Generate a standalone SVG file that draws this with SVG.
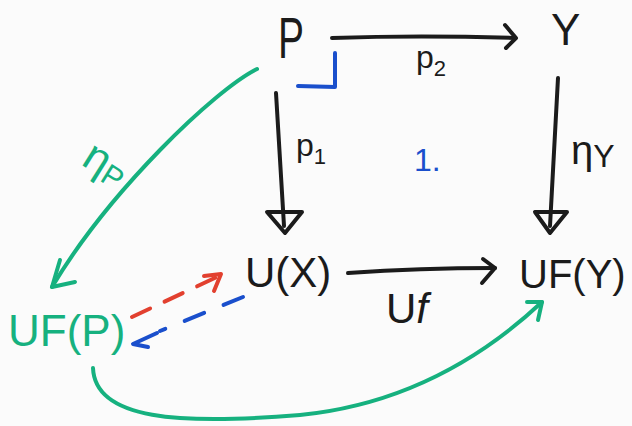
<svg xmlns="http://www.w3.org/2000/svg" width="632" height="426" viewBox="0 0 632 426">
<style>
text{font-family:"Liberation Sans","DejaVu Sans",sans-serif}
.k{fill:#1b1b1b}
.g{fill:#16b17f}
.b{fill:#1a4fcc}
.ln{fill:none;stroke-width:4;stroke-linecap:round;stroke-linejoin:round}
.blk{stroke:#1b1b1b}
.grn{stroke:#16b17f}
.red{stroke:#e2402f}
.blu{stroke:#1a4fcc}
</style>
<rect width="632" height="426" fill="#fbfbfb"/>
<g id="connectors">
  <g id="p2">
    <path class="ln blk" d="M332,38 Q420,35 515,38"/>
    <path class="ln blk" d="M505,25 L516,38 L506,48"/>
  </g>
  <g id="p1">
    <path class="ln blk" d="M276,93 L284,226"/>
    <path class="ln blk" d="M267,212 L302,212 L285,233 Z"/>
  </g>
  <g id="etaY">
    <path class="ln blk" d="M558,78 L550,226"/>
    <path class="ln blk" d="M535,212 L567,212 L550,233 Z"/>
  </g>
  <g id="Uf">
    <path class="ln blk" d="M348,273 Q420,268 495,268"/>
    <path class="ln blk" d="M483,259 L495,268 L482,283"/>
  </g>
  <g id="etaP">
    <path class="ln grn" d="M257,69 C215,90 110,190 52,287"/>
    <path class="ln grn" d="M60,260 L52,287 L75,282"/>
  </g>
  <g id="bottom">
    <path class="ln grn" d="M93,368 C95,420 180,425 300,415 C400,405 480,360 542,302"/>
    <path class="ln grn" d="M527,302 L542,302 L538,320"/>
  </g>
  <g id="red">
    <path class="ln red" d="M132,317 L219,276" stroke-dasharray="20 16"/>
    <path class="ln red" d="M204,276 L221,274 L214,291"/>
  </g>
  <g id="blue">
    <path class="ln blu" d="M243,297 L160,331" stroke-dasharray="21 21"/>
    <path class="ln blu" d="M157,333 L133,344 L148,347"/>
  </g>
  <g id="pullback">
    <path class="ln blu" d="M298,86 L335,87 L335,53"/>
  </g>
</g>
<g id="node-P"><text class="k" x="278" y="58" font-size="58" textLength="26" lengthAdjust="spacingAndGlyphs">P</text></g>
<g id="node-Y"><text class="k" x="551" y="45" font-size="44">Y</text></g>
<g id="node-UX"><text class="k" x="245" y="287" font-size="42">U(X)</text></g>
<g id="node-UFY"><text class="k" x="519" y="288" font-size="40">UF(Y)</text></g>
<g id="node-UFP"><text class="g" x="8" y="346" font-size="44">UF(P)</text></g>
<g id="labels">
  <text class="k" x="416" y="68" font-size="32">p<tspan font-size="22" dy="8">2</tspan></text>
  <text class="k" x="296" y="156" font-size="32">p<tspan font-size="22" dy="8">1</tspan></text>
  <text class="b" x="414" y="171" font-size="32">1.</text>
  <text class="k" x="386" y="323" font-size="42">U<tspan font-style="italic">f</tspan></text>
  <text class="g" font-size="44" transform="translate(80,164) rotate(32)">η<tspan font-size="30" dy="4">P</tspan></text>
  <text class="k" x="571" y="164" font-size="40">η<tspan font-size="32" dy="3">Y</tspan></text>
</g>
</svg>
